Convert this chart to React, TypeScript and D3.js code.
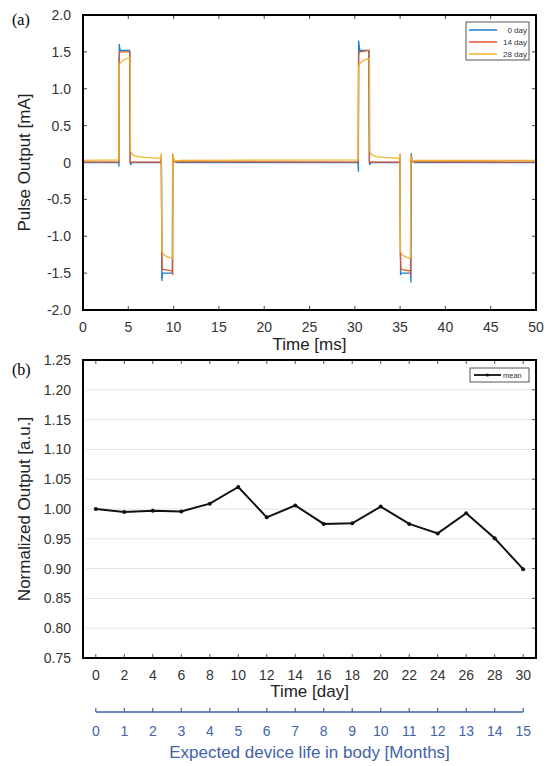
import React from "react";
import * as d3 from "d3";

// ---------- Panel (a) data: waveform breakpoints [time ms, current mA] ----------
const day0: [number, number][] = [
  [0, 0], [3.95, 0], [3.97, -0.05], [4.0, 1.6], [4.1, 1.52], [5.15, 1.52], [5.2, 0.0], [5.25, -0.03], [5.4, 0],
  [8.6, 0], [8.65, 0.06], [8.7, -1.6], [8.8, -1.5], [9.85, -1.5], [9.9, 0.1], [10.0, 0.03], [10.3, 0],
  [30.35, 0], [30.4, -0.12], [30.42, 1.65], [30.55, 1.52], [31.55, 1.52], [31.6, 0], [31.65, -0.03], [31.8, 0],
  [34.95, 0], [35.0, 0.05], [35.05, -1.52], [35.15, -1.5], [36.15, -1.5], [36.2, -1.62], [36.22, 0.12], [36.35, 0.02], [36.6, 0],
  [50, 0],
];
const day14: [number, number][] = [
  [0, 0.005], [3.97, 0.005], [4.0, 1.45], [4.05, 1.5], [5.18, 1.5], [5.22, 0.0], [5.4, 0.005],
  [8.6, 0.005], [8.65, 0.1], [8.7, -1.25], [8.75, -1.45], [9.85, -1.47], [9.9, -1.52], [9.92, 0.1], [10.05, 0.01],
  [30.38, 0.005], [30.42, 1.45], [30.5, 1.5], [31.58, 1.52], [31.62, 0.0], [31.8, 0.005],
  [34.95, 0.005], [35.0, 0.1], [35.03, -1.25], [35.1, -1.45], [36.1, -1.47], [36.15, -1.52], [36.18, 0.08], [36.3, 0.01],
  [50, 0.005],
];
const day28: [number, number][] = [
  [0, 0.03], [3.97, 0.035], [4.0, 1.33], [4.2, 1.36], [4.5, 1.39], [4.9, 1.41], [5.2, 1.42], [5.25, 0.15],
  [5.5, 0.1], [6.0, 0.08], [7.0, 0.065], [8.6, 0.055], [8.65, 0.12], [8.7, -1.2], [8.9, -1.25], [9.3, -1.28], [9.9, -1.3],
  [9.92, 0.12], [10.1, 0.02], [10.6, 0.03],
  [30.38, 0.035], [30.42, 1.3], [30.6, 1.35], [30.9, 1.38], [31.3, 1.4], [31.62, 1.41], [31.66, 0.15],
  [31.9, 0.1], [32.4, 0.08], [33.4, 0.065], [34.95, 0.055], [35.0, 0.12], [35.03, -1.2], [35.2, -1.25], [35.6, -1.28], [36.15, -1.3],
  [36.18, 0.1], [36.35, 0.02], [36.8, 0.03],
  [50, 0.03],
];
const seriesA = [
  { name: "0 day", data: day0, color: "#1a7fd0" },
  { name: "14 day", data: day14, color: "#e0552a" },
  { name: "28 day", data: day28, color: "#f0b429" },
];
const xTicksA = [0, 5, 10, 15, 20, 25, 30, 35, 40, 45, 50];
const yTicksA = [2.0, 1.5, 1.0, 0.5, 0, -0.5, -1.0, -1.5, -2.0];

// ---------- Panel (b) data ----------
const days = [0, 2, 4, 6, 8, 10, 12, 14, 16, 18, 20, 22, 24, 26, 28, 30];
const meanOutput = [1.0, 0.995, 0.997, 0.996, 1.009, 1.037, 0.986, 1.006, 0.975, 0.976, 1.004, 0.975, 0.959, 0.993, 0.951, 0.899];
const yTicksB = [1.25, 1.2, 1.15, 1.1, 1.05, 1.0, 0.95, 0.9, 0.85, 0.8, 0.75];
const months = [0, 1, 2, 3, 4, 5, 6, 7, 8, 9, 10, 11, 12, 13, 14, 15];

const FONT = "'Liberation Sans', Arial, sans-serif";
const TICK = "#333";

export default function App() {
  // Panel (a) geometry
  const aL = 83, aR = 536, aT = 15, aB = 310;
  const xA = d3.scaleLinear().domain([0, 50]).range([aL, aR]);
  const yA = d3.scaleLinear().domain([-2, 2]).range([aB, aT]);
  const lineA = d3.line<[number, number]>().x((d) => xA(d[0])).y((d) => yA(d[1]));

  // Panel (b) geometry
  const bL = 83, bR = 536, bT = 360, bB = 658;
  const xB = d3.scaleLinear().domain([-0.9, 30.9]).range([bL, bR]);
  const yB = d3.scaleLinear().domain([0.75, 1.25]).range([bB, bT]);
  const lineB = d3.line<number>().x((_, i) => xB(days[i])).y((d) => yB(d));
  const xM = d3.scaleLinear().domain([0, 15]).range([xB(0), xB(30)]);
  const mY = 712;
  const blue = "#3f63a8";

  return (
    <svg width={554} height={766} style={{ position: "absolute", left: 0, top: 0, background: "#fff" }} fontFamily={FONT}>
      <rect x={0} y={0} width={554} height={766} fill="#fff" />
      {/* ===== Panel (a) ===== */}
      <text x={12} y={25} fontFamily="'Liberation Serif', 'Times New Roman', serif" fontSize={16}>(a)</text>
      <defs>
        <clipPath id="clipA"><rect x={aL} y={aT} width={aR - aL} height={aB - aT} /></clipPath>
      </defs>
      {xTicksA.map((t) => (
        <g key={"xa" + t}>
          <line x1={xA(t)} x2={xA(t)} y1={aB} y2={aB - 4} stroke="#444" strokeWidth={1} />
          <line x1={xA(t)} x2={xA(t)} y1={aT} y2={aT + 4} stroke="#444" strokeWidth={1} />
          <text x={xA(t)} y={aB + 22} textAnchor="middle" fontSize={14} fill={TICK}>{t}</text>
        </g>
      ))}
      {yTicksA.map((t) => (
        <g key={"ya" + t}>
          <line x1={aL} x2={aL + 4} y1={yA(t)} y2={yA(t)} stroke="#444" strokeWidth={1} />
          <line x1={aR} x2={aR - 4} y1={yA(t)} y2={yA(t)} stroke="#444" strokeWidth={1} />
          <text x={71} y={yA(t) + 5} textAnchor="end" fontSize={14} fill={TICK}>{t === 0 ? "0" : t.toFixed(1)}</text>
        </g>
      ))}
      <g clipPath="url(#clipA)">
        {seriesA.map((s) => (
          <path key={s.name} d={lineA(s.data) || ""} fill="none" stroke={s.color} strokeWidth={1.3} strokeLinejoin="round" />
        ))}
      </g>
      <rect x={aL} y={aT} width={aR - aL} height={aB - aT} fill="none" stroke="#000" strokeWidth={2} />
      <text x={(aL + aR) / 2} y={aB + 40} textAnchor="middle" fontSize={17} fill="#222">Time [ms]</text>
      <text transform={`translate(30,${(aT + aB) / 2}) rotate(-90)`} textAnchor="middle" fontSize={17} fill="#222">Pulse Output [mA]</text>
      {/* legend a */}
      <rect x={466} y={22} width={63} height={38} fill="#fff" stroke="#555" strokeWidth={1} />
      {seriesA.map((s, i) => (
        <g key={"lg" + s.name}>
          <line x1={469} x2={497} y1={30 + i * 12} y2={30 + i * 12} stroke={s.color} strokeWidth={1.5} />
          <text x={527} y={33 + i * 12} textAnchor="end" fontSize={8} fill="#333">{s.name}</text>
        </g>
      ))}

      {/* ===== Panel (b) ===== */}
      <text x={12} y={375} fontFamily="'Liberation Serif', 'Times New Roman', serif" fontSize={16}>(b)</text>
      {yTicksB.map((t) => (
        <g key={"yb" + t}>
          {t > 0.75 && t < 1.25 && (
            <line x1={bL + 3} x2={bR - 3} y1={yB(t)} y2={yB(t)} stroke="#e3e3e3" strokeWidth={1} />
          )}
          <line x1={bR} x2={bR - 4} y1={yB(t)} y2={yB(t)} stroke="#555" strokeWidth={1} />
          <text x={71} y={yB(t) + 5} textAnchor="end" fontSize={14} fill={TICK}>{t.toFixed(2)}</text>
        </g>
      ))}
      {days.map((d) => (
        <g key={"xb" + d}>
          <line x1={xB(d)} x2={xB(d)} y1={bB} y2={bB - 4} stroke="#555" strokeWidth={1} />
          <line x1={xB(d)} x2={xB(d)} y1={bT} y2={bT + 4} stroke="#555" strokeWidth={1} />
          <text x={xB(d)} y={bB + 22} textAnchor="middle" fontSize={14} fill={TICK}>{d}</text>
        </g>
      ))}
      <path d={lineB(meanOutput) || ""} fill="none" stroke="#111" strokeWidth={2} strokeLinejoin="miter" />
      {meanOutput.map((v, i) => (
        <circle key={"pt" + i} cx={xB(days[i])} cy={yB(v)} r={2} fill="#111" />
      ))}
      <rect x={bL} y={bT} width={bR - bL} height={bB - bT} fill="none" stroke="#000" strokeWidth={2} />
      <text x={(bL + bR) / 2} y={bB + 39} textAnchor="middle" fontSize={17} fill="#222">Time [day]</text>
      <text transform={`translate(30,${(bT + bB) / 2}) rotate(-90)`} textAnchor="middle" fontSize={17} fill="#222">Normalized Output [a.u.]</text>
      {/* legend b */}
      <rect x={470} y={368} width={59} height={14} fill="#fff" stroke="#555" strokeWidth={1} />
      <line x1={474} x2={501} y1={375} y2={375} stroke="#111" strokeWidth={1.8} />
      <circle cx={487.5} cy={375} r={1.6} fill="#111" />
      <text x={503} y={378} fontSize={7.5} fill="#333">mean</text>

      {/* ===== Months axis ===== */}
      <line x1={xM(0)} x2={xM(15)} y1={mY} y2={mY} stroke={blue} strokeWidth={1.5} />
      {months.map((m) => (
        <g key={"m" + m}>
          <line x1={xM(m)} x2={xM(m)} y1={mY} y2={mY - 4} stroke={blue} strokeWidth={1.2} />
          <text x={xM(m)} y={mY + 24} textAnchor="middle" fontSize={14} fill={blue}>{m}</text>
        </g>
      ))}
      <text x={(bL + bR) / 2} y={758} textAnchor="middle" fontSize={17} fill={blue}>Expected device life in body [Months]</text>
    </svg>
  );
}
